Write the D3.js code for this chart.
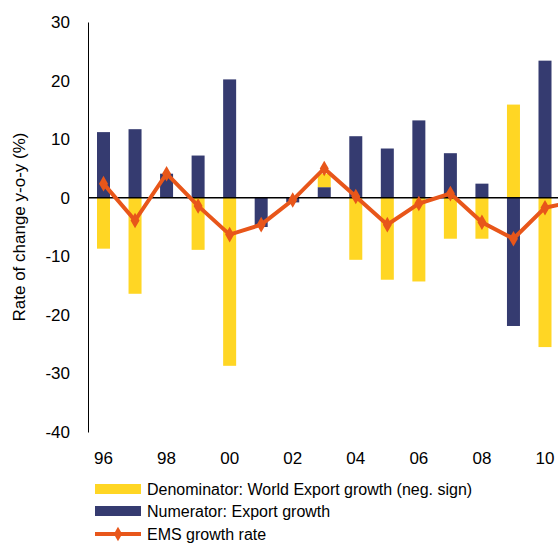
<!DOCTYPE html>
<html><head><meta charset="utf-8">
<script src="https://cdn.jsdelivr.net/npm/d3@7"></script>
<style>body{margin:0;background:#fff}svg{font-family:"Liberation Sans",Arial,sans-serif}</style>
</head><body><svg id="c" width="558" height="545"></svg>
<script>
const years = [1996,1997,1998,1999,2000,2001,2002,2003,2004,2005,2006,2007,2008,2009,2010];
const yearLabels = ['96','98','00','02','04','06','08','10'];
const exportGrowth = [11.2,11.7,4.1,7.2,20.2,-5.0,-0.8,1.8,10.5,8.4,13.2,7.6,2.4,-21.9,23.4];
const worldGrowthNeg = [-8.7,-16.4,0,-8.9,-28.7,0,0,2.3,-10.6,-14.0,-14.3,-7.0,-7.0,15.9,-25.5];
const emsYears = [1996,1997,1998,1999,2000,2001,2002,2003,2004,2005,2006,2007,2008,2009,2010,2011];
const emsGrowth = [2.4,-3.9,4.1,-1.4,-6.3,-4.6,-0.4,5.0,0.2,-4.6,-1.0,0.7,-4.2,-7.0,-1.7,-0.6];

const svg = d3.select('#c');
const x = d3.scaleLinear().domain([1996,2010]).range([103.5,545]);
const y = d3.scaleLinear().domain([-40,30]).range([432,22]);
const bw = 13;

// y axis
const ya = svg.append('g').attr('transform','translate(88,0)')
  .call(d3.axisLeft(y).tickValues(d3.range(-40,31,10)).tickFormat(d=>String(d)).tickSize(0).tickPadding(18));
ya.select('.domain').attr('stroke','#000');
ya.selectAll('text').attr('font-size',17).attr('fill','#000').attr('font-family','Liberation Sans, Arial');
svg.append('text').attr('transform','translate(25,227) rotate(-90)').attr('text-anchor','middle')
  .attr('font-size',17).text('Rate of change y-o-y (%)');

// x labels
svg.selectAll('.xl').data(yearLabels).enter().append('text')
  .attr('x',(d,i)=>x(1996+2*i)).attr('y',464).attr('text-anchor','middle')
  .attr('font-size',17).text(d=>d);

// stacked bars: blue from zero, yellow stacked on same side
const blue = '#353b70', yellow = '#ffd624', orange = '#e8561a';
years.forEach((yr,i)=>{
  const b = exportGrowth[i], w = worldGrowthNeg[i];
  svg.append('rect').attr('x',x(yr)-bw/2).attr('width',bw)
    .attr('y',y(Math.max(0,b))).attr('height',Math.abs(y(b)-y(0))).attr('fill',blue);
  const base = (w>=0) === (b>=0) ? b : 0;
  const top = base + w;
  svg.append('rect').attr('x',x(yr)-bw/2).attr('width',bw)
    .attr('y',y(Math.max(base,top))).attr('height',Math.abs(y(top)-y(base))).attr('fill',yellow);
});

// zero line
svg.append('line').attr('x1',88).attr('x2',558).attr('y1',y(0)).attr('y2',y(0)).attr('stroke','#000').attr('stroke-width',1.5);

// EMS line
const line = d3.line().x((d,i)=>x(emsYears[i])).y(d=>y(d));
svg.append('path').datum(emsGrowth).attr('d',line).attr('fill','none').attr('stroke',orange).attr('stroke-width',4);
svg.selectAll('.m').data(emsGrowth.slice(0,15)).enter().append('path')
  .attr('d',d3.symbol(d3.symbolDiamond,70)).attr('fill',orange)
  .attr('transform',(d,i)=>`translate(${x(emsYears[i])},${y(d)})`);

// legend
const lg = svg.append('g').attr('font-size',16);
lg.append('rect').attr('x',95).attr('y',484).attr('width',46).attr('height',10).attr('fill',yellow);
lg.append('text').attr('x',147).attr('y',495).text('Denominator: World Export growth (neg. sign)');
lg.append('rect').attr('x',95).attr('y',506).attr('width',46).attr('height',10).attr('fill',blue);
lg.append('text').attr('x',147).attr('y',517).text('Numerator: Export growth');
lg.append('line').attr('x1',95).attr('x2',141).attr('y1',534).attr('y2',534).attr('stroke',orange).attr('stroke-width',4);
lg.append('path').attr('d',d3.symbol(d3.symbolDiamond,60)).attr('fill',orange).attr('transform','translate(118,534)');
lg.append('text').attr('x',147).attr('y',540).text('EMS growth rate');
</script></body></html>
